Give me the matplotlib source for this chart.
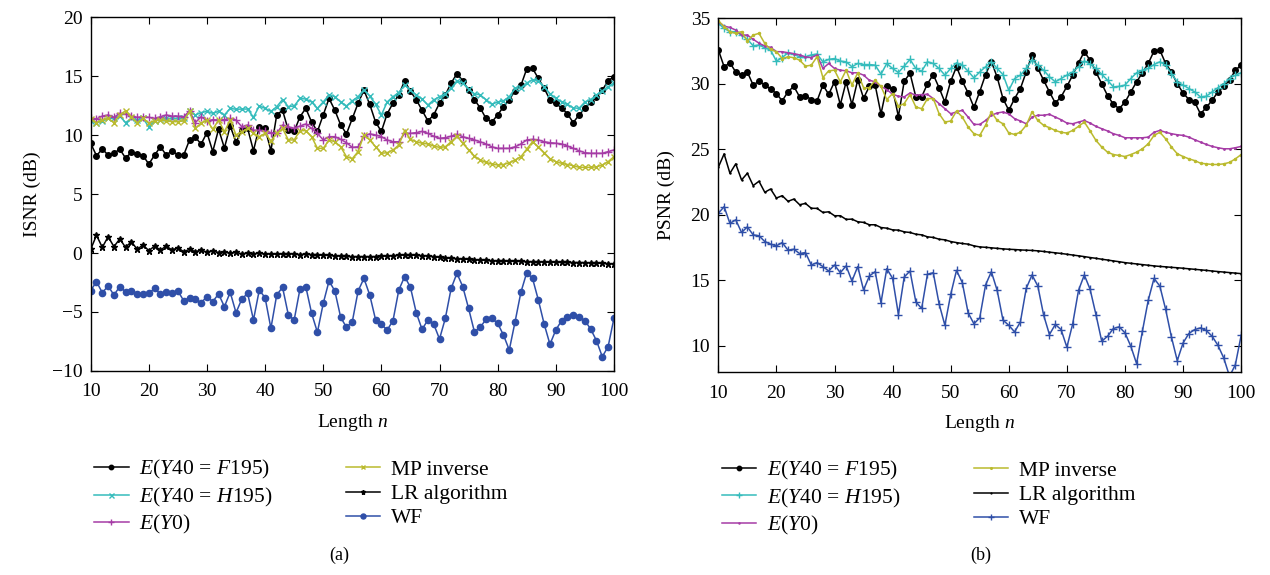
import numpy as np
import matplotlib
matplotlib.use("Agg")
import matplotlib.pyplot as plt

plt.rcParams["font.family"] = ["Liberation Serif", "DejaVu Serif"]
plt.rcParams["mathtext.fontset"] = "custom"
plt.rcParams["mathtext.rm"] = "Liberation Serif"
plt.rcParams["mathtext.it"] = "Liberation Serif:italic"

n = np.arange(10, 101)

labels = [r"$E(Y40\,=\,F195)$", r"$E(Y40\,=\,H195)$", r"$E(Y0)$",
          "MP inverse", "LR algorithm", "WF"]

# ---- panel (a): ISNR ----
isnr_f195 = [9.29, 8.25, 8.81, 8.30, 8.45, 8.80, 8.05, 8.53, 8.40, 8.25,
             7.54, 8.30, 9.00, 8.30, 8.67, 8.30, 8.30, 9.58, 9.80, 9.24,
             10.20, 8.60, 10.50, 8.90, 10.76, 9.40, 10.40, 10.56, 8.67, 10.70,
             10.56, 8.67, 11.70, 12.10, 10.40, 10.30, 11.55, 12.26, 11.10, 10.30,
             11.70, 13.10, 12.10, 10.85, 10.10, 11.40, 12.70, 13.80, 12.60, 11.10,
             10.30, 11.80, 12.70, 13.40, 14.60, 13.70, 13.00, 12.10, 11.20, 11.70,
             12.70, 13.40, 14.40, 15.20, 14.60, 13.80, 13.00, 12.30, 11.40, 11.10,
             11.70, 12.40, 13.00, 13.75, 14.20, 15.60, 15.65, 14.80, 13.95, 13.00,
             12.70, 12.30, 11.80, 11.05, 11.70, 12.26, 12.80, 13.25, 13.80, 14.60,
             14.95]
isnr_h195 = [11.20, 11.00, 11.20, 11.40, 11.40, 11.60, 11.05, 11.40, 11.27, 11.40,
             10.70, 11.20, 11.30, 11.40, 11.40, 11.40, 11.40, 12.06, 11.70, 11.90,
             12.00, 11.84, 12.00, 11.70, 12.26, 12.18, 12.20, 12.20, 11.50, 12.46,
             12.26, 12.00, 12.40, 13.00, 12.40, 12.46, 13.10, 13.05, 12.80, 12.26,
             12.80, 13.40, 13.25, 12.80, 12.46, 12.90, 13.25, 13.85, 13.30, 12.60,
             11.70, 12.80, 13.25, 13.60, 14.24, 13.80, 13.40, 13.05, 12.54, 12.97,
             13.25, 13.50, 13.95, 14.60, 14.40, 13.87, 13.50, 13.40, 13.00, 12.60,
             12.80, 12.90, 13.25, 13.95, 14.00, 14.40, 14.70, 14.60, 14.10, 13.50,
             13.10, 12.80, 12.60, 12.30, 12.26, 12.80, 13.00, 13.40, 13.75, 14.10,
             14.40]
isnr_y0 = [11.40, 11.36, 11.60, 11.70, 11.50, 11.84, 11.78, 11.60, 11.50, 11.55,
           11.50, 11.40, 11.55, 11.70, 11.60, 11.60, 11.55, 12.03, 11.05, 11.55,
           11.20, 11.30, 11.27, 11.30, 11.40, 11.27, 10.70, 10.85, 10.40, 10.40,
           10.34, 10.20, 10.14, 10.85, 10.70, 10.56, 10.76, 10.93, 10.56, 10.14,
           9.58, 9.86, 9.86, 9.63, 9.35, 8.95, 9.00, 9.90, 10.10, 10.00,
           9.86, 9.58, 9.43, 9.43, 10.14, 10.14, 10.20, 10.30, 10.14, 9.90,
           9.72, 9.77, 9.90, 10.06, 9.86, 9.72, 9.58, 9.43, 9.24, 9.00,
           8.87, 8.87, 8.87, 9.00, 9.24, 9.58, 9.63, 9.58, 9.43, 9.35,
           9.30, 9.24, 9.07, 8.87, 8.67, 8.50, 8.45, 8.45, 8.45, 8.59,
           8.73]
isnr_mp = [11.36, 11.05, 11.27, 11.40, 11.05, 11.70, 12.06, 11.55, 11.05, 11.40,
           11.00, 11.20, 11.27, 11.20, 11.13, 11.13, 11.20, 12.00, 10.56, 11.00,
           11.27, 10.48, 11.27, 10.28, 11.27, 10.00, 10.28, 10.56, 10.14, 9.86,
           10.14, 9.50, 10.14, 10.56, 9.58, 9.58, 10.37, 10.37, 9.86, 8.87,
           8.87, 9.58, 9.43, 9.00, 8.16, 8.00, 8.60, 10.00, 9.58, 9.00,
           8.45, 8.50, 8.73, 9.15, 10.37, 9.63, 9.43, 9.30, 9.24, 9.07,
           8.95, 9.00, 9.43, 9.90, 9.30, 8.73, 8.22, 7.88, 7.68, 7.54,
           7.46, 7.50, 7.65, 7.88, 8.16, 8.80, 9.43, 9.00, 8.50, 8.00,
           7.74, 7.60, 7.50, 7.40, 7.26, 7.26, 7.26, 7.30, 7.46, 7.74,
           8.16]
isnr_lr = [0.31, 1.50, 0.48, 1.38, 0.54, 1.19, 0.48, 0.96, 0.31, 0.68,
           0.20, 0.59, 0.25, 0.59, 0.25, 0.45, 0.11, 0.31, 0.11, 0.25,
           0.06, 0.20, 0.03, 0.11, -0.03, 0.06, -0.08, 0.00, -0.08, 0.00,
           -0.11, -0.06, -0.11, -0.06, -0.08, -0.06, -0.14, -0.08, -0.14, -0.14,
           -0.20, -0.20, -0.25, -0.25, -0.28, -0.31, -0.31, -0.31, -0.31, -0.31,
           -0.28, -0.25, -0.22, -0.20, -0.17, -0.17, -0.20, -0.22, -0.25, -0.31,
           -0.37, -0.42, -0.45, -0.48, -0.51, -0.54, -0.57, -0.60, -0.63, -0.65,
           -0.68, -0.69, -0.70, -0.71, -0.72, -0.73, -0.74, -0.75, -0.77, -0.78,
           -0.79, -0.80, -0.80, -0.81, -0.81, -0.82, -0.84, -0.86, -0.88, -0.90,
           -0.93]
isnr_wf = [-3.19, -2.43, -3.36, -2.80, -3.56, -2.85, -3.28, -3.19, -3.47, -3.47,
           -3.42, -3.00, -3.47, -3.28, -3.42, -3.22, -4.04, -3.79, -3.93, -4.21,
           -3.70, -4.12, -3.47, -4.55, -3.33, -5.06, -3.90, -3.42, -5.68, -3.14,
           -3.79, -6.38, -3.56, -2.90, -5.25, -5.68, -3.05, -2.85, -5.11, -6.72,
           -4.27, -2.37, -3.22, -5.45, -6.30, -5.82, -3.22, -2.15, -3.56, -5.65,
           -6.05, -6.53, -5.73, -3.14, -2.00, -2.90, -5.06, -6.47, -5.68, -6.02,
           -7.29, -5.54, -3.00, -1.72, -2.85, -4.69, -6.67, -6.30, -5.62, -5.54,
           -5.96, -6.95, -8.22, -5.82, -3.33, -1.67, -2.15, -3.98, -6.02, -7.74,
           -6.53, -5.73, -5.40, -5.25, -5.40, -5.73, -6.44, -7.43, -8.79, -7.94,
           -5.54]

# ---- panel (b): PSNR ----
psnr_f195 = [32.60, 31.30, 31.60, 30.90, 30.70, 30.90, 29.90, 30.20, 29.90, 29.60,
             29.25, 28.70, 29.40, 29.80, 29.00, 29.10, 28.80, 28.70, 29.90, 29.20,
             30.15, 28.40, 30.15, 28.40, 30.30, 28.90, 29.80, 29.90, 27.70, 29.80,
             29.60, 27.50, 30.20, 30.80, 29.00, 29.00, 30.00, 30.70, 29.70, 28.60,
             30.20, 31.30, 30.20, 29.30, 28.20, 29.40, 30.70, 31.70, 30.50, 28.87,
             27.98, 28.87, 29.64, 30.90, 32.20, 31.17, 30.27, 29.38, 28.54, 29.00,
             29.80, 30.66, 31.60, 32.45, 31.80, 30.90, 30.00, 29.10, 28.44, 28.10,
             28.60, 29.38, 30.15, 30.84, 31.55, 32.50, 32.57, 31.55, 30.90, 30.00,
             29.30, 28.80, 28.60, 27.70, 28.20, 28.74, 29.38, 29.80, 30.27, 31.04,
             31.42]
psnr_h195 = [34.60, 34.23, 33.98, 33.98, 33.72, 33.40, 32.90, 32.96, 32.75, 32.57,
             31.73, 32.00, 32.37, 32.24, 32.06, 32.06, 32.20, 32.27, 31.68, 31.86,
             31.93, 31.73, 31.68, 31.30, 31.55, 31.47, 31.47, 31.42, 30.73, 31.55,
             31.17, 30.86, 31.35, 31.86, 31.17, 30.96, 31.68, 31.55, 31.17, 30.66,
             31.17, 31.60, 31.42, 30.96, 30.45, 30.90, 31.30, 31.68, 31.17, 30.70,
             29.50, 30.40, 30.66, 31.17, 31.80, 31.42, 31.04, 30.53, 30.15, 30.40,
             30.66, 30.90, 31.30, 31.73, 31.50, 31.17, 30.73, 30.27, 29.76, 29.80,
             29.90, 30.40, 30.84, 31.04, 31.17, 31.47, 31.68, 31.42, 30.78, 30.15,
             29.90, 29.64, 29.38, 29.00, 29.05, 29.38, 29.70, 30.00, 30.40, 30.66,
             30.84]
psnr_y0 = [34.74, 34.40, 34.30, 34.10, 33.72, 33.72, 33.40, 33.10, 32.88, 32.78,
           32.45, 32.45, 32.37, 32.30, 32.20, 32.06, 32.00, 32.20, 31.17, 31.55,
           31.17, 31.04, 30.99, 30.84, 30.84, 30.66, 30.27, 30.15, 29.80, 29.56,
           29.20, 29.05, 29.00, 29.30, 29.13, 29.18, 29.20, 28.87, 28.49, 28.10,
           27.72, 27.85, 27.98, 27.46, 26.90, 26.90, 27.20, 27.60, 27.77, 27.85,
           27.70, 27.34, 27.16, 26.95, 27.46, 27.60, 27.60, 27.67, 27.46, 27.26,
           27.00, 26.95, 27.08, 27.20, 27.00, 26.75, 26.57, 26.40, 26.19, 26.06,
           25.88, 25.88, 25.88, 25.88, 25.93, 26.30, 26.44, 26.30, 26.19, 26.11,
           26.06, 25.93, 25.73, 25.55, 25.37, 25.22, 25.12, 25.04, 25.04, 25.12,
           25.22]
psnr_mp = [34.82, 34.36, 33.98, 33.85, 33.98, 33.26, 33.72, 33.85, 33.08, 32.62,
           32.45, 31.93, 32.06, 31.99, 31.80, 31.35, 31.42, 32.06, 30.48, 30.99,
           31.04, 30.15, 31.04, 29.90, 30.84, 29.70, 29.70, 30.27, 29.80, 28.80,
           29.25, 28.28, 28.49, 29.18, 28.23, 28.10, 28.87, 28.87, 27.72, 27.08,
           27.16, 27.92, 27.46, 26.70, 26.19, 26.06, 26.83, 27.85, 27.20, 26.95,
           26.24, 26.14, 26.30, 26.83, 27.85, 27.20, 26.83, 26.65, 26.44, 26.30,
           26.24, 26.44, 26.75, 27.08, 26.40, 25.68, 25.17, 24.78, 24.60, 24.53,
           24.45, 24.60, 24.78, 25.04, 25.42, 26.06, 26.30, 25.80, 25.17, 24.66,
           24.45, 24.27, 24.14, 23.94, 23.89, 23.84, 23.84, 23.89, 24.00, 24.27,
           24.60]
psnr_lr = [23.63, 24.65, 23.17, 23.89, 22.66, 23.17, 22.23, 22.56, 21.72, 21.97,
           21.28, 21.46, 21.03, 21.20, 20.77, 20.87, 20.50, 20.49, 20.18, 20.23,
           19.93, 19.93, 19.65, 19.67, 19.47, 19.42, 19.24, 19.24, 19.03, 18.98,
           18.85, 18.83, 18.70, 18.65, 18.52, 18.47, 18.32, 18.27, 18.14, 18.09,
           17.96, 17.88, 17.81, 17.76, 17.63, 17.55, 17.52, 17.48, 17.44, 17.40,
           17.37, 17.35, 17.32, 17.30, 17.28, 17.25, 17.20, 17.15, 17.10, 17.05,
           16.99, 16.93, 16.87, 16.81, 16.74, 16.68, 16.61, 16.55, 16.48, 16.42,
           16.35, 16.30, 16.25, 16.20, 16.15, 16.10, 16.06, 16.03, 15.99, 15.96,
           15.92, 15.88, 15.84, 15.80, 15.76, 15.71, 15.67, 15.63, 15.59, 15.55,
           15.51]
psnr_wf = [20.11, 20.62, 19.34, 19.62, 18.65, 19.08, 18.47, 18.40, 17.96, 17.76,
           17.63, 17.88, 17.30, 17.37, 17.04, 17.12, 16.17, 16.35, 16.05, 15.71,
           16.17, 15.58, 16.10, 14.95, 16.05, 14.26, 15.33, 15.66, 13.29, 15.89,
           15.15, 12.39, 15.25, 15.71, 13.36, 12.85, 15.46, 15.58, 13.21, 11.57,
           13.92, 15.76, 14.82, 12.52, 11.68, 12.14, 14.64, 15.66, 14.23, 11.96,
           11.57, 11.06, 11.83, 14.38, 15.41, 14.56, 12.34, 10.86, 11.63, 11.24,
           9.89, 11.68, 14.23, 15.41, 14.31, 12.39, 10.35, 10.73, 11.32, 11.45,
           10.99, 9.97, 8.64, 11.12, 13.47, 15.15, 14.56, 12.78, 10.66, 8.87,
           10.22, 10.94, 11.24, 11.37, 11.17, 10.73, 10.04, 9.07, 7.67, 8.56,
           10.81]

colors = ["black", "#35bcbc", "#a63ca6", "#baba2e", "black", "#2f4fa8"]
marks_a = [("o", 4), ("x", 4.5), ("+", 5.5), ("x", 4), ("*", 4.5), ("o", 4.5)]
marks_b = [("o", 4), ("+", 5.5), (".", 2), (".", 3), (".", 1.5), ("+", 5.5)]

fig = plt.figure(figsize=(12.7, 5.75), dpi=100)
ax1 = fig.add_axes([0.0714, 0.3548, 0.412, 0.6156])
ax2 = fig.add_axes([0.5656, 0.3530, 0.4117, 0.6152])

panels = [
    (ax1, [isnr_f195, isnr_h195, isnr_y0, isnr_mp, isnr_lr, isnr_wf], marks_a,
     "ISNR (dB)", 8, (-10, 20), np.arange(-10, 21, 5)),
    (ax2, [psnr_f195, psnr_h195, psnr_y0, psnr_mp, psnr_lr, psnr_wf], marks_b,
     "PSNR (dB)", 11, (8, 35), np.arange(10, 36, 5)),
]

for ax, series, marks, ylab, ypad, ylim, yt in panels:
    for vals, col, (mk, ms), lab in zip(series, colors, marks, labels):
        ax.plot(n, vals, color=col, lw=1.1, marker=mk, ms=ms, mew=1.0, label=lab)
    ax.set_xlim(10, 100)
    ax.set_ylim(*ylim)
    ax.set_xticks(np.arange(10, 101, 10))
    ax.set_yticks(yt)
    ax.tick_params(direction="in", top=True, right=True, length=5, labelsize=14)
    ax.tick_params(axis="x", pad=9)
    ax.tick_params(axis="y", pad=6)
    ax.set_xlabel(r"Length $n$", fontsize=14, labelpad=8)
    ax.set_ylabel(ylab, fontsize=14, labelpad=ypad)
    for s in ax.spines.values():
        s.set_linewidth(1.0)
    ax.legend(loc="upper left", bbox_to_anchor=(-0.01, -0.222), ncol=2, frameon=False,
              fontsize=15.5, handlelength=1.6, handletextpad=0.5, columnspacing=3.4,
              labelspacing=0.2, borderaxespad=0, markerscale=0.8)

fig.text(0.267, 0.035, "(a)", fontsize=13, ha="center", va="center")
fig.text(0.7725, 0.035, "(b)", fontsize=13, ha="center", va="center")

fig.savefig("out.png", dpi=100)
